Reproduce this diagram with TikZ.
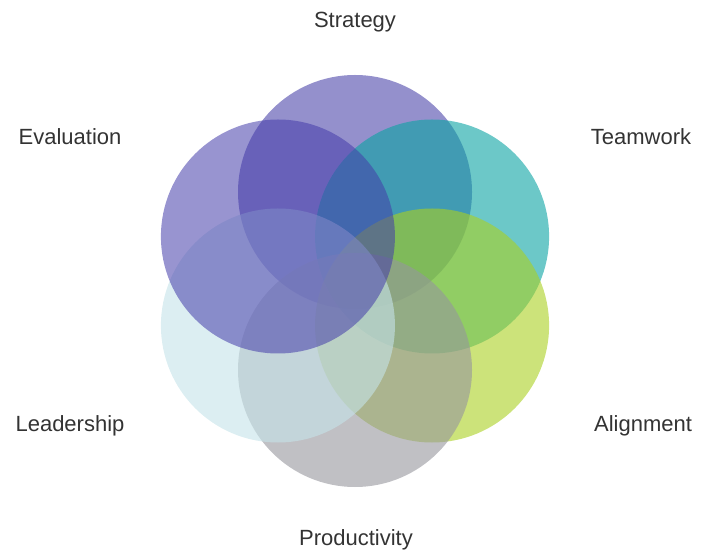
\documentclass[tikz,border=0pt]{standalone}
\usepackage{fontspec}
\setmainfont{Liberation Sans}
\usepackage{tikz}
\usetikzlibrary{calc,positioning}

\definecolor{cstrategy}{RGB}{60,53,162}
\definecolor{cevaluation}{RGB}{68,60,170}
\definecolor{cteamwork}{RGB}{10,163,163}
\definecolor{calignment}{RGB}{170,208,33}
\definecolor{cleadership}{RGB}{197,227,233}
\definecolor{cproductivity}{RGB}{150,150,157}
\definecolor{labeltext}{RGB}{51,51,51}

\begin{document}
\begin{tikzpicture}[x=1pt,y=1pt,
		petal/.style={fill=#1,fill opacity=0.6},
		deeppetal/.style={fill=#1,fill opacity=0.55},
		caption/.style={text=labeltext,font=\fontsize{22}{26}\selectfont,inner sep=0pt}]
		\useasboundingbox (0,0) rectangle (708,554);

		\coordinate (mid) at (355,273);
		\coordinate (pstrategy) at ($(mid)+(90:89)$);
		\coordinate (pteamwork) at ($(mid)+(30:89)$);
		\coordinate (palignment) at ($(mid)+(-30:89)$);
		\coordinate (pproductivity) at ($(mid)+(-90:89)$);
		\coordinate (pleadership) at ($(mid)+(-150:89)$);
		\coordinate (pevaluation) at ($(mid)+(150:89)$);

		\fill[deeppetal=cstrategy] (pstrategy) circle (117);
		\fill[petal=cteamwork] (pteamwork) circle (117);
		\fill[petal=calignment] (palignment) circle (117);
		\fill[petal=cproductivity] (pproductivity) circle (117);
		\fill[petal=cleadership] (pleadership) circle (117);
		\fill[deeppetal=cevaluation] (pevaluation) circle (117);

		\node[caption] (strategy) at (355,532) {Strategy};
		\node[caption] (evaluation) at (70,417) {Evaluation};
		\node[caption] (teamwork) at (641,417) {Teamwork};
		\node[caption] (leadership) at (70,128) {Leadership};
		\node[caption] (alignment) at (643,128) {Alignment};
		\node[caption] (productivity) at (356,14) {Productivity};
	\end{tikzpicture}
\end{document}
